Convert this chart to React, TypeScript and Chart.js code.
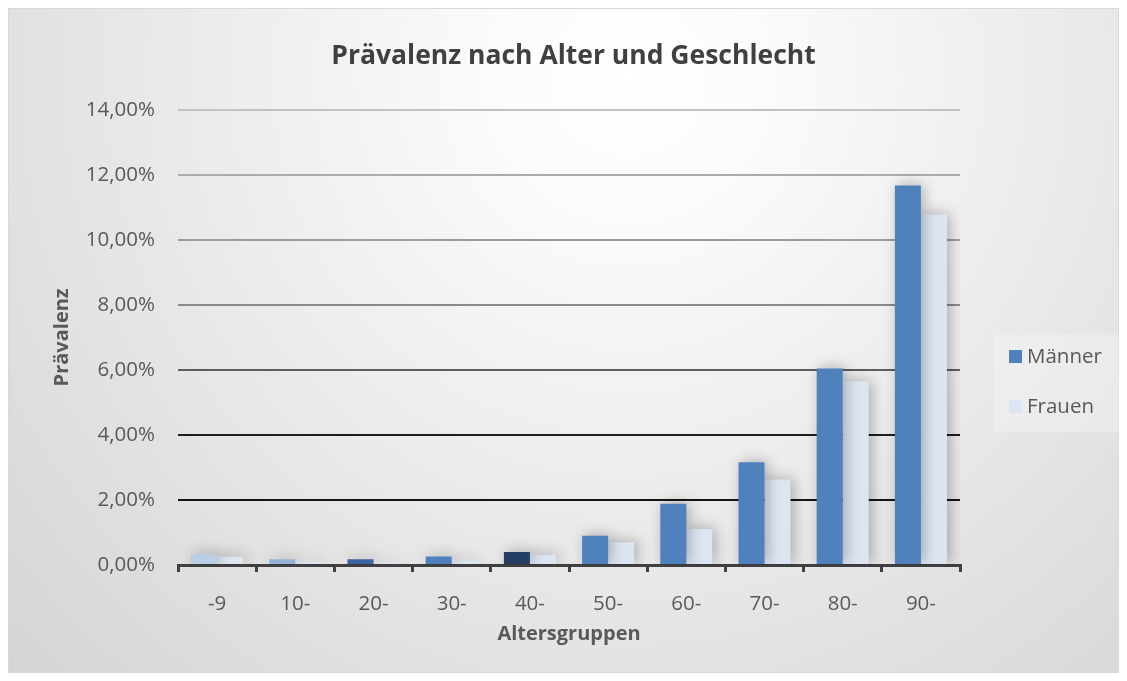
import React, { useEffect, useRef } from "react";
import { Chart, registerables } from "chart.js";

Chart.register(...registerables);

const categories = ["-9", "10-", "20-", "30-", "40-", "50-", "60-", "70-", "80-", "90-"];
const seriesNames = ["Männer", "Frauen"];
const maenner = [0.33, 0.18, 0.18, 0.26, 0.40, 0.90, 1.88, 3.16, 6.04, 11.67];
const frauen = [0.25, 0.09, 0.08, 0.13, 0.31, 0.70, 1.11, 2.63, 5.65, 10.78];
const maennerColors = ["#B9CDE5", "#95B3D7", "#3B64A0", "#4F81BD", "#243F63", "#4F81BD", "#4F81BD", "#4F81BD", "#4F81BD", "#4F81BD"];
const frauenColors = ["#DCE6F2", "#DCE6F2", "#DCE6F2", "#DCE6F2", "#DCE6F2", "#DCE6F2", "#DCE6F2", "#DCE6F2", "#DCE6F2", "#DCE6F2"];
const legendColors = ["#4F81BD", "#DCE6F2"];
const yMax = 14;
const yStep = 2;
const gridColors: Record<number, string> = {
  0: "rgba(0,0,0,0)",
  2: "#141414",
  4: "#1e1e1e",
  6: "#5e5e5e",
  8: "#8a8a8a",
  10: "#9c9c9c",
  12: "#ababab",
  14: "#c2c2c2",
};

const FONT = "'Open Sans'";

const bgPlugin = {
  id: "bgPlugin",
  beforeDraw(chart: any) {
    const { ctx, width, height } = chart;
    ctx.save();
    const g = ctx.createRadialGradient(620, 70, 0, 620, 70, 900);
    g.addColorStop(0, "#ffffff");
    g.addColorStop(0.15, "#fbfbfb");
    g.addColorStop(1, "#d2d2d2");
    ctx.fillStyle = g;
    ctx.fillRect(0, 0, width, height);
    ctx.strokeStyle = "#d9d9d9";
    ctx.lineWidth = 1;
    ctx.strokeRect(0.5, 0.5, width - 1, height - 1);
    ctx.restore();
  },
};

const shadowPlugin = {
  id: "shadowPlugin",
  beforeDatasetsDraw(chart: any) {
    const ctx = chart.ctx;
    ctx.save();
    ctx.shadowColor = "rgba(0,0,0,0.28)";
    ctx.shadowBlur = 14;
    ctx.shadowOffsetX = 3;
    ctx.shadowOffsetY = -1;
  },
  afterDatasetsDraw(chart: any) {
    chart.ctx.restore();
  },
};

const legendPlugin = {
  id: "customLegend",
  afterDraw(chart: any) {
    const { ctx } = chart;
    ctx.save();
    ctx.fillStyle = "rgba(255,255,255,0.25)";
    ctx.fillRect(986, 327, 125, 97);
    ctx.font = `20.5px ${FONT}`;
    ctx.textBaseline = "middle";
    ctx.textAlign = "left";
    const ys = [342, 392];
    seriesNames.forEach((name, i) => {
      ctx.fillStyle = legendColors[i];
      ctx.fillRect(1001, ys[i], 13, 13);
      ctx.fillStyle = "#595959";
      ctx.fillText(name, 1019, ys[i] + 7);
    });
    ctx.restore();
  },
};

export default function App() {
  const ref = useRef<HTMLCanvasElement | null>(null);
  useEffect(() => {
    if (!ref.current) return;
    const chart = new Chart(ref.current, {
      type: "bar",
      data: {
        labels: categories,
        datasets: [
          {
            label: seriesNames[0],
            data: maenner,
            backgroundColor: maennerColors,
            borderWidth: 0,
            categoryPercentage: 0.665,
            barPercentage: 1.0,
          },
          {
            label: seriesNames[1],
            data: frauen,
            backgroundColor: frauenColors,
            borderWidth: 0,
            categoryPercentage: 0.665,
            barPercentage: 1.0,
          },
        ],
      },
      options: {
        responsive: false,
        animation: false,
        layout: { padding: { left: 20, right: 0, top: 0, bottom: 0 } },
        plugins: {
          legend: { display: false },
          tooltip: { enabled: false },
          title: {
            display: true,
            text: "Prävalenz nach Alter und Geschlecht",
            color: "#404040",
            font: { family: FONT, size: 26.5, weight: "bold" },
            padding: { top: 33, bottom: 37 },
          },
        },
        scales: {
          x: {
            grid: {
              display: true,
              drawOnChartArea: false,
              drawTicks: true,
              tickLength: 7,
              color: "#404040",
              lineWidth: 3,
              offset: true,
            },
            border: { display: true, color: "#404040", width: 3 },
            ticks: {
              color: "#595959",
              font: { family: FONT, size: 20.5 },
              padding: 20,
            },
            title: {
              display: true,
              text: "Altersgruppen",
              color: "#595959",
              font: { family: FONT, size: 20, weight: "bold" },
              padding: { top: 0, bottom: 27 },
            },
            afterFit(scale: any) {
              scale.height = 108;
            },
          },
          y: {
            min: 0,
            max: yMax,
            ticks: {
              stepSize: yStep,
              color: "#595959",
              font: { family: FONT, size: 20.5 },
              padding: 23,
              callback: (v: any) => `${Number(v).toFixed(2).replace(".", ",")}%`,
            },
            grid: {
              drawTicks: false,
              lineWidth: 2,
              color: (c: any) => gridColors[Math.round(c.tick?.value ?? 0)] || "#999",
            },
            border: { display: false },
            title: {
              display: true,
              text: "Prävalenz",
              color: "#595959",
              font: { family: FONT, size: 20, weight: "bold" },
              padding: { top: 22, bottom: 0 },
            },
            afterFit(scale: any) {
              scale.width = 150;
            },
          },
          yRight: {
            position: "right",
            display: true,
            min: 0,
            max: yMax,
            ticks: { display: false },
            grid: { drawOnChartArea: false, drawTicks: false },
            border: { display: false },
            afterFit(scale: any) {
              scale.width = 159;
            },
          },
        },
      },
      plugins: [bgPlugin, shadowPlugin, legendPlugin],
    });
    return () => chart.destroy();
  }, []);
  return <canvas ref={ref} width={1111} height={665} style={{ display: "block" }} />;
}
